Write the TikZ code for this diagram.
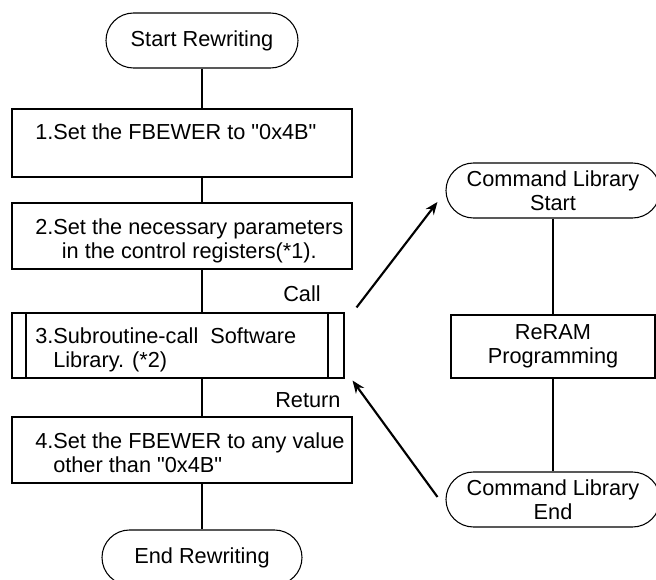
\documentclass[tikz,border=0pt]{standalone}
\usepackage{fontspec}
\newfontfamily\flowfont{Liberation Sans}
\usetikzlibrary{arrows.meta, shapes.misc, positioning}
\tikzset{
  term/.style ={draw, rounded rectangle, minimum height=41.25pt, inner sep=0pt, align=center, line width=0.8pt},
  proc/.style ={draw, rectangle, minimum width=255pt, minimum height=49.5pt, inner sep=0pt, line width=0.8pt},
  subr/.style ={proc, minimum width=249pt, minimum height=48.75pt,
                path picture={
                  \draw[line width=0.8pt] ([xshift=10.5pt]path picture bounding box.north west) -- ([xshift=10.5pt]path picture bounding box.south west);
                  \draw[line width=0.8pt] ([xshift=-12pt]path picture bounding box.north east) -- ([xshift=-12pt]path picture bounding box.south east);
                }},
  btxt/.style ={inner sep=0pt, anchor=west},
  lbl/.style  ={inner sep=0pt, anchor=base west},
  flow/.style ={line width=1.6pt},                                  % plain flow line
  jump/.style ={-{Stealth[length=9.5pt, width=7.5pt]}, line width=1.6pt}, % call / return
}

\begin{document}
\begin{tikzpicture}[x=0.75pt, y=-0.75pt, font=\flowfont\fontsize{16.3}{18}\selectfont]
  \useasboundingbox (0,0) rectangle (656,580);
  \clip (0,0) rectangle (656,580);

  % main flow
  \node[term, minimum width=144pt] (start)  at (202,40.5)  {Start Rewriting};
  \node[proc, minimum height=51pt] (set1)   at (182,143)   {};
  \node[proc]                      (set2)   at (182,236)   {};
  \node[subr]                      (call)   at (178,345.5) {};
  \node[proc]                      (set4)   at (182,450)   {};
  \node[term, minimum width=150pt] (finish) at (202,557.5) {End Rewriting};

  \node[lbl]              (t1) at (35,140)   {1.Set the FBEWER to "0x4B"};
  \node[btxt, align=center] (t2) at (35,240.5) {2.Set the necessary parameters\\in the control registers(*1).};
  \node[btxt, align=left] (t3) at (35,350)   {3.Subroutine-call\ \ Software\\\hspace*{13.5pt}Library. (*2)};
  \node[btxt, align=left] (t4) at (35,453)   {4.Set the FBEWER to any value\\\hspace*{13.5pt}other than "0x4B"};

  % library side
  \node[term, minimum width=160.5pt] (libS) at (553,190.5) {Command Library\\Start};
  \node[proc, minimum width=153pt, minimum height=47.25pt, align=center] (prog) at (553,346.5) {ReRAM\\Programming};
  \node[term, minimum width=160.5pt] (libE) at (553,499.5) {Command Library\\End};

  \node[lbl] (callL) at (283,302) {Call};
  \node[lbl] (retL)  at (275,407) {Return};

  \draw[flow] (start.south) -- (start.south |- set1.north);
  \draw[flow] (set1.south -| start) -- (set2.north -| start);
  \draw[flow] (set2.south -| start) -- (call.north -| start);
  \draw[flow] (call.south -| start) -- (set4.north -| start);
  \draw[flow] (set4.south -| start) -- (finish.north);

  \draw[flow] (libS.south) -- (prog.north);
  \draw[flow] (prog.south) -- (libE.north);

  \draw[jump] ([xshift=9pt, yshift=3.75pt]call.north east) -- ([xshift=-6pt, yshift=-8.6pt]libS.west);
  \draw[jump] ([xshift=-6pt, yshift=1.9pt]libE.west) -- ([xshift=6pt, yshift=-1.5pt]call.south east);
\end{tikzpicture}
\end{document}
